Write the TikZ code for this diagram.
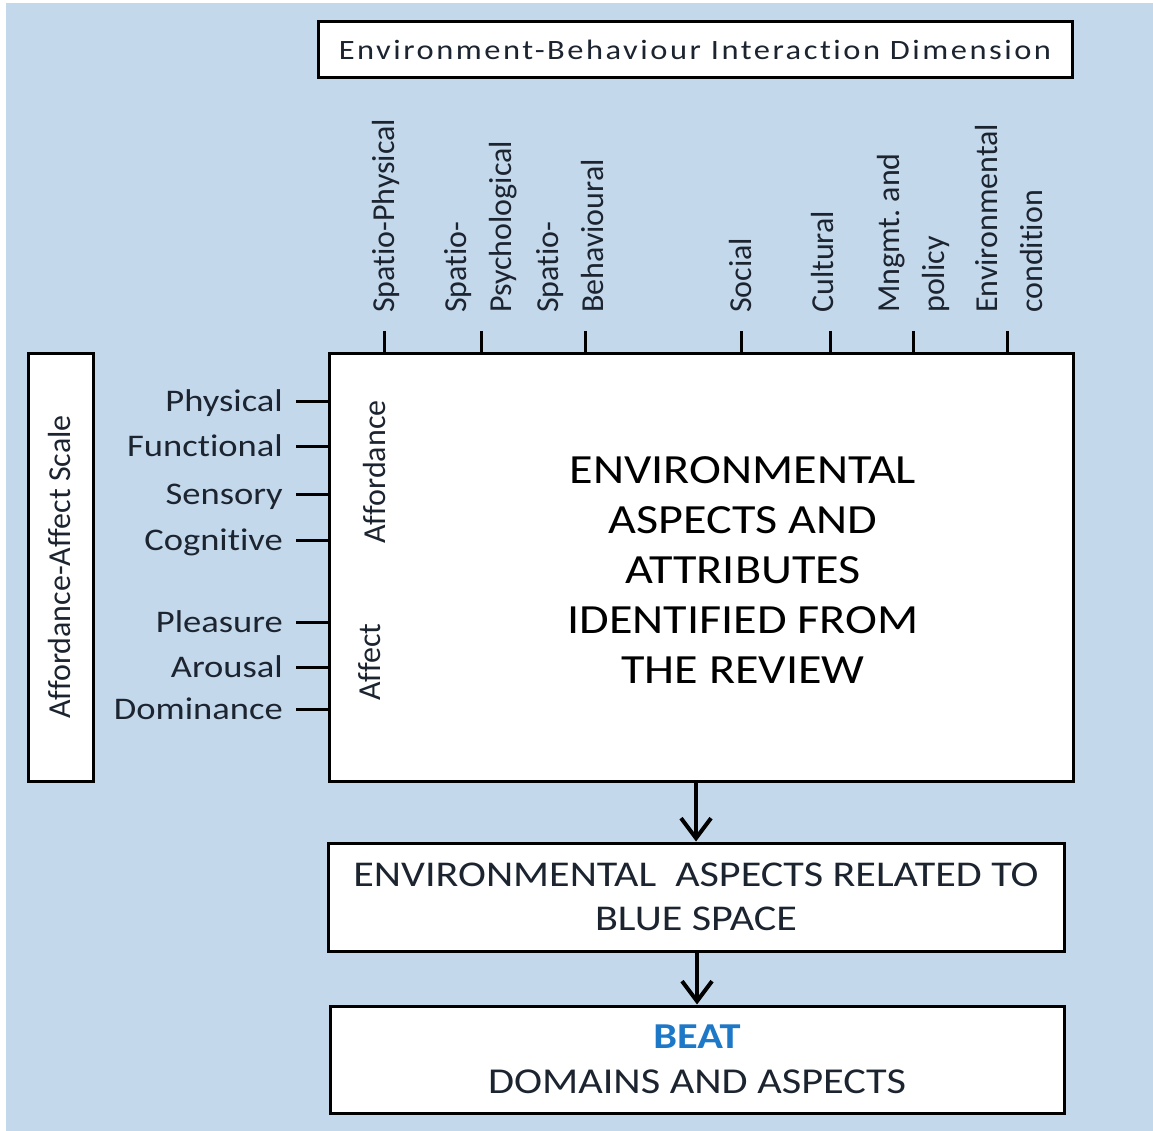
\documentclass[tikz,border=0pt]{standalone}
\usepackage{fontspec}
\setmainfont{Carlito}[Ligatures=NoCommon]
\newfontfamily\widefont{Carlito}[FakeStretch=1.16,Ligatures=NoCommon]
\newfontfamily\titlefont{Carlito}[FakeStretch=1.16,LetterSpace=9,Ligatures=NoCommon]
\usetikzlibrary{positioning}
\usetikzlibrary{calc}
\usetikzlibrary{arrows.meta}
\definecolor{bs-sky}{HTML}{C4D8EC}
\definecolor{bs-ink}{HTML}{1C2430}
\definecolor{bs-beat}{HTML}{1E78C8}
\colorlet{frame}{black}
\newcommand{\sizedfont}[2]{\fontsize{#1}{#2}\selectfont}
\tikzset{
  panel/.style={draw=frame,line width=3pt,fill=white,inner sep=0pt,text=bs-ink},
  dimlabel/.style={rotate=90,anchor=west,align=left,inner sep=0pt,text=bs-ink,font=\sizedfont{32}{45}},
  scalelabel/.style={anchor=east,inner sep=0pt,text height=20pt,text depth=0pt,text=bs-ink,font=\widefont\sizedfont{31.5}{38}},
  sidelabel/.style={rotate=90,inner sep=0pt,text=bs-ink,font=\sizedfont{32}{38}},
  scaletick/.style={line width=3pt},
  flow/.style={line width=4pt,-{Straight Barb[length=20pt,width=30pt,line width=4pt]}}
}

\begin{document}
\begin{tikzpicture}[x=1pt,y=-1pt]
% backdrop
\useasboundingbox (0,0) rectangle (1153,1131);
\fill[white] (0,0) rectangle (1153,1131);
\fill[bs-sky] (6,3) rectangle (1153,1131);
% boxes
\node[panel,minimum width=754pt,minimum height=56pt,font=\titlefont\sizedfont{28}{32}] (dimtitle) at (695,50) {Environment-Behaviour Interaction Dimension};
\node[panel,minimum width=744pt,minimum height=428pt] (review) at (701,567) {};
\node[panel,minimum width=65pt,minimum height=428pt] (scalebox) at (60.5,567) {};
% dimension scale
\foreach \lx/\tx/\name/\txt in {386/384/sphys/{Spatio-Physical},481/481/spsy/{Spatio-\\Psychological},570/585/sbeh/{Spatio-\\Behavioural},740/741/soc/{Social},822/830/cult/{Cultural},913/913/mgmt/{Mngmt.\ and\\policy},1009/1007/envc/{Environmental\\condition}} {
  \node[dimlabel] (dim-\name) at (\lx,313) {\txt};
  \coordinate (tick-\name) at (\tx,331);
  \draw[scaletick] (tick-\name) -- (tick-\name |- review.north);
}
% affordance-affect scale
\foreach \y/\name/\txt in {401/phys/Physical,446/func/Functional,494/sens/Sensory,540/cogn/Cognitive,622/plea/Pleasure,667/arou/Arousal,709/domi/Dominance} {
  \node[scalelabel] (lbl-\name) at (283,\y) {\txt};
  \draw[scaletick] ([xshift=13pt]lbl-\name.east) -- (lbl-\name.east -| review.west);
}
\node[sidelabel] (scaletitle) at (60,567) {Affordance-Affect Scale};
\node[sidelabel] (afford) at (375,472) {Affordance};
\node[sidelabel] (affect) at (370,662) {Affect};
\node[text=black,align=center,font=\widefont\sizedfont{41.5}{50}] (reviewtext) at (743,570) {ENVIRONMENTAL\\ASPECTS AND\\ATTRIBUTES\\IDENTIFIED FROM\\THE REVIEW};
% outcome boxes
\node[panel,minimum width=736pt,minimum height=108pt,align=center,font=\widefont\sizedfont{36.3}{44}] (bluespace) at (696,897) {ENVIRONMENTAL\ \ ASPECTS RELATED TO\\BLUE SPACE};
\node[panel,minimum width=734pt,minimum height=107pt,align=center,font=\widefont\sizedfont{36.5}{45}] (beat) at (697,1059.5) {\textbf{\textcolor{bs-beat}{BEAT}}\\DOMAINS AND ASPECTS};
\draw[flow] (bluespace.north |- review.south) -- (bluespace.north);
\draw[flow] (beat.north |- bluespace.south) -- (beat.north);
\end{tikzpicture}
\end{document}
